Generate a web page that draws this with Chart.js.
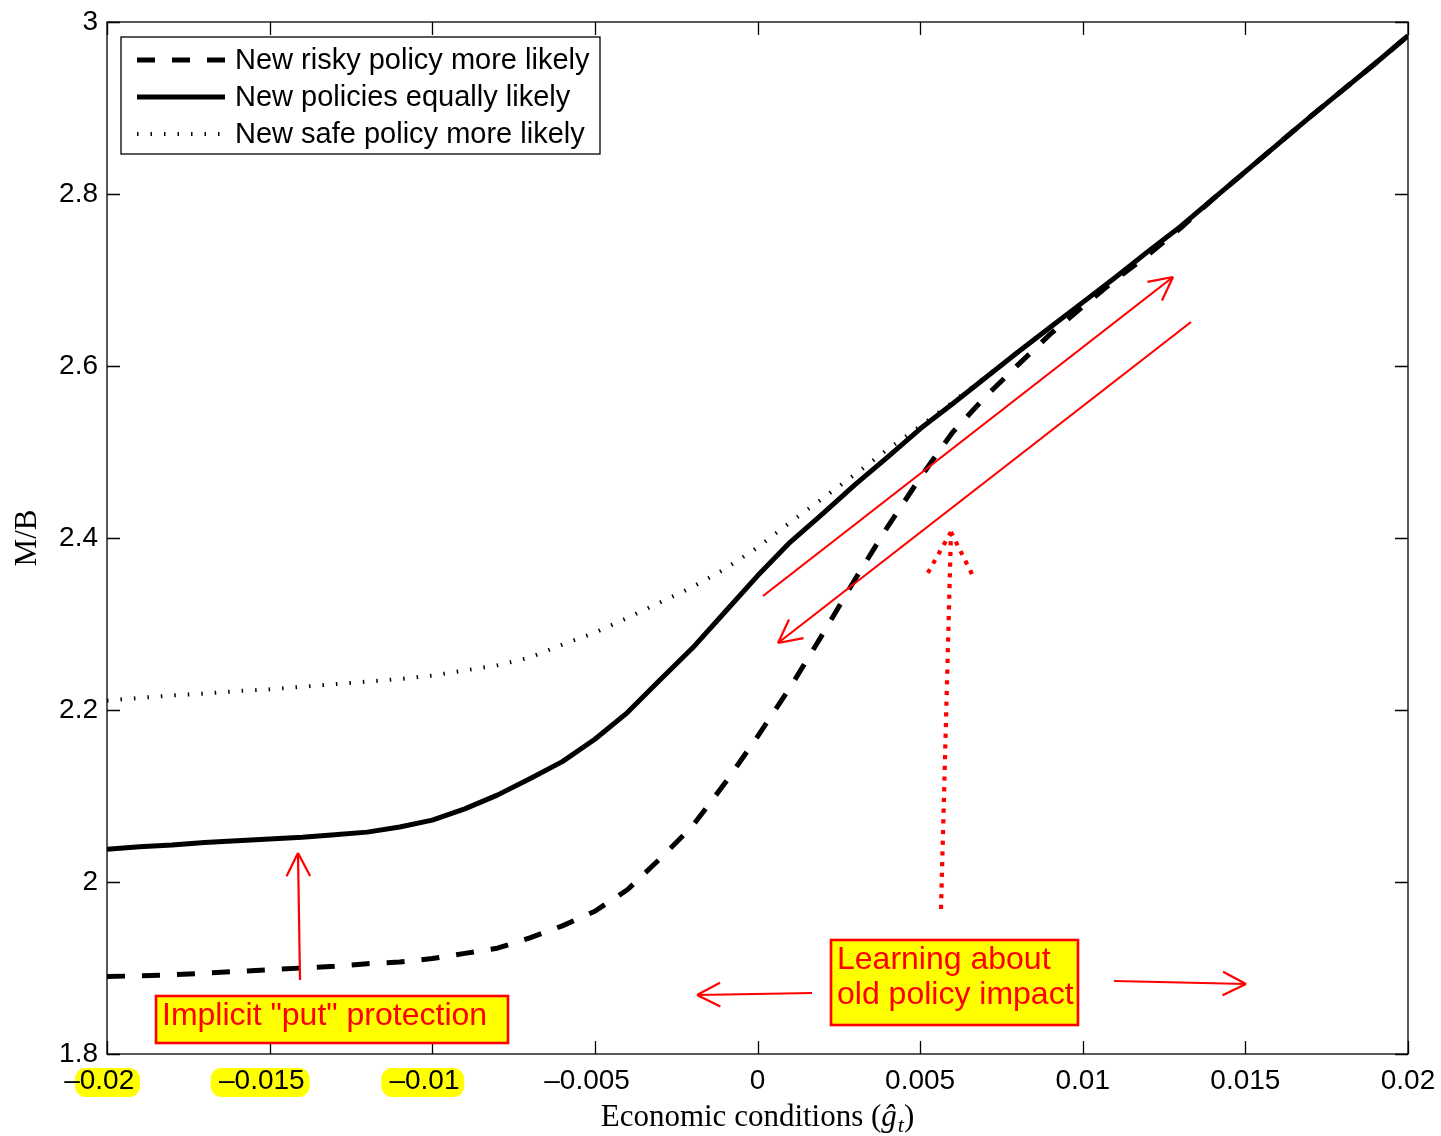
<!DOCTYPE html>
<html>
<head>
<meta charset="utf-8">
<title>M/B and economic conditions</title>
<script src="https://cdn.jsdelivr.net/npm/chart.js@4/dist/chart.umd.min.js"></script>
<style>
  html, body { margin: 0; padding: 0; background: #fff; }
  canvas { display: block; }
</style>
</head>
<body>
<canvas id="mb" width="1441" height="1136"></canvas>
<script>
// Economic conditions (g-hat_t) grid
const xValues = [
  -0.020, -0.019, -0.018, -0.017, -0.016, -0.015, -0.014, -0.013, -0.012, -0.011,
  -0.010, -0.009, -0.008, -0.007, -0.006, -0.005, -0.004, -0.003, -0.002, -0.001,
   0.000,  0.001,  0.002,  0.003,  0.004,  0.005,  0.006,  0.007,  0.008,  0.009,
   0.010,  0.011,  0.012,  0.013,  0.014,  0.015,  0.016,  0.017,  0.018,  0.019,
   0.020
];

// M/B when the new risky policy is more likely
const riskyValues = [
  1.890, 1.891, 1.892, 1.894, 1.896, 1.898, 1.900, 1.902, 1.905, 1.907,
  1.911, 1.917, 1.923, 1.935, 1.949, 1.966, 1.991, 2.027, 2.065, 2.115,
  2.169, 2.226, 2.288, 2.352, 2.413, 2.470, 2.523, 2.564, 2.601, 2.637,
  2.669, 2.700, 2.729, 2.760, 2.794, 2.826, 2.858, 2.890, 2.921, 2.952,
  2.984
];

// M/B when both new policies are equally likely
const equalValues = [
  2.038, 2.041, 2.043, 2.046, 2.048, 2.050, 2.052, 2.055, 2.058, 2.064,
  2.072, 2.085, 2.101, 2.120, 2.140, 2.166, 2.197, 2.235, 2.272, 2.314,
  2.356, 2.395, 2.428, 2.462, 2.494, 2.527, 2.556, 2.586, 2.616, 2.645,
  2.674, 2.703, 2.733, 2.762, 2.794, 2.826, 2.858, 2.890, 2.921, 2.952,
  2.984
];

// M/B when the new safe policy is more likely
const safeValues = [
  2.211, 2.214, 2.217, 2.219, 2.222, 2.224, 2.227, 2.230, 2.233, 2.236,
  2.240, 2.246, 2.252, 2.261, 2.276, 2.290, 2.307, 2.325, 2.343, 2.364,
  2.389, 2.418, 2.446, 2.474, 2.503, 2.530, 2.558, 2.587, 2.616, 2.645,
  2.674, 2.703, 2.733, 2.762, 2.794, 2.826, 2.858, 2.890, 2.921, 2.952,
  2.984
];

const seriesLabels = [
  'New risky policy more likely',
  'New policies equally likely',
  'New safe policy more likely'
];

const xTickValues = [-0.02, -0.015, -0.01, -0.005, 0, 0.005, 0.01, 0.015, 0.02];
const xTickLabels = ['\u20130.02', '\u20130.015', '\u20130.01', '\u20130.005', '0', '0.005', '0.01', '0.015', '0.02'];
const yTickValues = [1.8, 2, 2.2, 2.4, 2.6, 2.8, 3];
const yTickLabels = ['1.8', '2', '2.2', '2.4', '2.6', '2.8', '3'];

const xTitleParts = ['Economic conditions (', '\u011D', 't', ')'];
const yTitle = 'M/B';

// Annotations (anchored in data units)
const noteBoxes = [
  { lines: ['Implicit "put" protection'], x0: -0.018493, x1: -0.007671, y0: 1.86744, y1: 1.81279 },
  { lines: ['Learning about', 'old policy impact'], x0: 0.002260, x1: 0.009854, y0: 1.93256, y1: 1.83372 }
];
const noteArrows = [
  { from: [-0.014066, 1.88605], to: [-0.014128, 2.03372], dotted: false },
  { from: [0.001676, 1.87093], to: [-0.001860, 1.86860], dotted: false },
  { from: [0.010961, 1.88488], to: [0.015019, 1.88140], dotted: false },
  { from: [0.000169, 2.33256], to: [0.012775, 2.70349], dotted: false },
  { from: [0.013328, 2.65116], to: [0.000630, 2.27791], dotted: false },
  { from: [0.005642, 1.96860], to: [0.005949, 2.40698], dotted: true }
];
const highlightedTicks = [
  { value: -0.02, left: -32, right: 33 },
  { value: -0.015, left: -59, right: 40 },
  { value: -0.01, left: -51, right: 32 }
];

const SANS = '"Liberation Sans", Arial, Helvetica, sans-serif';
const SERIF = '"Liberation Serif", "Times New Roman", serif';
const RED = '#ff0000';
const YELLOW = '#ffff00';

const toPoints = ys => xValues.map((x, i) => ({ x: x, y: ys[i] }));

// Keep the plot box fixed: no extra room reserved for edge labels
const noEdgePadding = s => {
  s.paddingLeft = 0; s.paddingRight = 0; s.paddingTop = 0; s.paddingBottom = 0;
};

// White page and yellow marks behind the first x tick labels
const backdrop = {
  id: 'backdrop',
  beforeDraw(chart) {
    const ctx = chart.ctx;
    ctx.save();
    ctx.fillStyle = '#fff';
    ctx.fillRect(0, 0, chart.width, chart.height);
    const xs = chart.scales.x;
    const base = chart.chartArea.bottom;
    ctx.fillStyle = YELLOW;
    highlightedTicks.forEach(h => {
      const px = xs.getPixelForValue(h.value);
      ctx.beginPath();
      ctx.roundRect(px + h.left, base + 14, h.right - h.left, 29, 11);
      ctx.fill();
    });
    ctx.restore();
  }
};

// Boxed axes with inward tick marks on all four sides
const frame = {
  id: 'frame',
  afterDatasetsDraw(chart) {
    const ctx = chart.ctx;
    const a = chart.chartArea;
    const xs = chart.scales.x, ys = chart.scales.y;
    const len = 13;
    ctx.save();
    ctx.strokeStyle = '#000';
    ctx.lineWidth = 1.3;
    ctx.beginPath();
    xTickValues.forEach(v => {
      const px = Math.round(xs.getPixelForValue(v)) + 0.5;
      ctx.moveTo(px, a.bottom); ctx.lineTo(px, a.bottom - len);
      ctx.moveTo(px, a.top); ctx.lineTo(px, a.top + len);
    });
    yTickValues.forEach(v => {
      const py = Math.round(ys.getPixelForValue(v)) + 0.5;
      ctx.moveTo(a.left, py); ctx.lineTo(a.left + len, py);
      ctx.moveTo(a.right, py); ctx.lineTo(a.right - len, py);
    });
    ctx.stroke();
    ctx.strokeRect(a.left, a.top, a.right - a.left, a.bottom - a.top);
    ctx.restore();
  }
};

function drawArrow(ctx, x1, y1, x2, y2, dotted) {
  const ang = Math.atan2(y1 - y2, x1 - x2);
  const head = dotted ? 52 : 26;
  const spread = (dotted ? 28 : 27) * Math.PI / 180;
  ctx.save();
  ctx.strokeStyle = RED;
  ctx.lineCap = 'butt';
  if (dotted) {
    ctx.lineWidth = 4.2;
    ctx.setLineDash([4.2, 6.5]);
  } else {
    ctx.lineWidth = 2.2;
  }
  ctx.beginPath();
  ctx.moveTo(x1, y1);
  ctx.lineTo(x2, y2);
  ctx.stroke();
  [ang - spread, ang + spread].forEach(t => {
    ctx.beginPath();
    ctx.moveTo(x2, y2);
    ctx.lineTo(x2 + head * Math.cos(t), y2 + head * Math.sin(t));
    ctx.stroke();
  });
  ctx.restore();
}

// Red arrows and yellow captions
const notes = {
  id: 'notes',
  afterDraw(chart) {
    const ctx = chart.ctx;
    const xs = chart.scales.x, ys = chart.scales.y;
    noteArrows.forEach(n => {
      drawArrow(ctx,
        xs.getPixelForValue(n.from[0]), ys.getPixelForValue(n.from[1]),
        xs.getPixelForValue(n.to[0]), ys.getPixelForValue(n.to[1]), n.dotted);
    });
    noteBoxes.forEach(b => {
      const l = xs.getPixelForValue(b.x0), r = xs.getPixelForValue(b.x1);
      const t = ys.getPixelForValue(b.y0), btm = ys.getPixelForValue(b.y1);
      ctx.save();
      ctx.fillStyle = YELLOW;
      ctx.fillRect(l, t, r - l, btm - t);
      ctx.strokeStyle = RED;
      ctx.lineWidth = 2.6;
      ctx.strokeRect(l, t, r - l, btm - t);
      ctx.fillStyle = RED;
      ctx.font = '32px ' + SANS;
      ctx.textAlign = 'left';
      ctx.textBaseline = 'alphabetic';
      b.lines.forEach((s, i) => ctx.fillText(s, l + 6, t + 29 + i * 35));
      ctx.restore();
    });
  }
};

// Legend with line samples in a framed box
const legendBox = {
  id: 'legendBox',
  afterDraw(chart) {
    const ctx = chart.ctx;
    const a = chart.chartArea;
    const left = a.left + 14, top = a.top + 15, w = 479, h = 117;
    ctx.save();
    ctx.fillStyle = '#fff';
    ctx.fillRect(left, top, w, h);
    ctx.strokeStyle = '#000';
    ctx.lineWidth = 1.3;
    ctx.strokeRect(left, top, w, h);
    chart.data.datasets.forEach((ds, i) => {
      const cy = top + 23 + i * 37;
      ctx.save();
      ctx.strokeStyle = ds.borderColor;
      ctx.lineWidth = ds.borderWidth;
      ctx.lineCap = 'butt';
      ctx.setLineDash(ds.borderDash || []);
      ctx.beginPath();
      ctx.moveTo(left + 16, cy);
      ctx.lineTo(left + 104, cy);
      ctx.stroke();
      ctx.restore();
      ctx.fillStyle = '#000';
      ctx.font = '29px ' + SANS;
      ctx.textAlign = 'left';
      ctx.textBaseline = 'middle';
      ctx.fillText(ds.label, left + 114, cy + 1);
    });
    ctx.restore();
  }
};

// Axis titles in serif type, with a hatted, subscripted symbol on x
const titles = {
  id: 'titles',
  afterDraw(chart) {
    const ctx = chart.ctx;
    const a = chart.chartArea;
    ctx.save();
    ctx.fillStyle = '#000';
    ctx.textBaseline = 'alphabetic';
    ctx.textAlign = 'left';
    const mainFont = '31px ' + SERIF;
    const italFont = 'italic 31px ' + SERIF;
    const subFont = 'italic 22px ' + SERIF;
    const fonts = [mainFont, italFont, subFont, mainFont];
    const widths = xTitleParts.map((p, i) => { ctx.font = fonts[i]; return ctx.measureText(p).width; });
    const total = widths.reduce((s, v) => s + v, 0) + 1;
    let x = (a.left + a.right) / 2 - total / 2;
    const base = a.bottom + 72;
    xTitleParts.forEach((p, i) => {
      ctx.font = fonts[i];
      ctx.fillText(p, x, base + (i === 2 ? 6 : 0));
      x += widths[i] + (i === 1 ? 1 : 0);
    });
    ctx.translate(28, (a.top + a.bottom) / 2);
    ctx.rotate(-Math.PI / 2);
    ctx.font = mainFont;
    ctx.textAlign = 'center';
    ctx.textBaseline = 'middle';
    ctx.fillText(yTitle, 0, 0);
    ctx.restore();
  }
};

new Chart(document.getElementById('mb'), {
  type: 'line',
  data: {
    datasets: [
      { label: seriesLabels[0], data: toPoints(riskyValues), borderColor: '#000', borderWidth: 5, borderDash: [18, 17], order: 3 },
      { label: seriesLabels[1], data: toPoints(equalValues), borderColor: '#000', borderWidth: 5, order: 2 },
      { label: seriesLabels[2], data: toPoints(safeValues), borderColor: '#000', borderWidth: 4, borderDash: [1.5, 12], order: 1 }
    ]
  },
  options: {
    responsive: false,
    animation: false,
    devicePixelRatio: 1,
    layout: { padding: { left: 0, top: 22, right: 33, bottom: 0 } },
    elements: {
      point: { radius: 0, hoverRadius: 0 },
      line: { tension: 0, fill: false, borderCapStyle: 'butt', borderJoinStyle: 'round' }
    },
    plugins: { legend: { display: false }, tooltip: { enabled: false } },
    events: [],
    scales: {
      x: {
        type: 'linear', min: -0.02, max: 0.02,
        grid: { display: false, drawTicks: false }, border: { display: false },
        afterBuildTicks: s => { s.ticks = xTickValues.map(v => ({ value: v })); },
        afterFit: s => { s.height = 82; noEdgePadding(s); },
        ticks: {
          autoSkip: false, maxRotation: 0, minRotation: 0, padding: 10, color: '#000',
          font: { family: SANS, size: 28 },
          callback: (v, i) => xTickLabels[i] + (xTickValues[i] < 0 ? '  ' : '')
        }
      },
      y: {
        type: 'linear', min: 1.8, max: 3,
        grid: { display: false, drawTicks: false }, border: { display: false },
        afterBuildTicks: s => { s.ticks = yTickValues.map(v => ({ value: v })); },
        afterFit: s => { s.width = 107; noEdgePadding(s); },
        ticks: {
          padding: 9, color: '#000',
          font: { family: SANS, size: 28 },
          callback: (v, i) => yTickLabels[i]
        }
      }
    }
  },
  plugins: [backdrop, frame, notes, legendBox, titles]
});
</script>
</body>
</html>
